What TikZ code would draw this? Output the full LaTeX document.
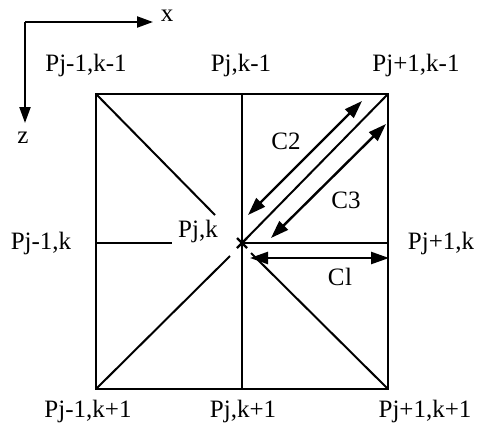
\documentclass[tikz,border=0pt]{standalone}
\usepackage{fontspec}
\setmainfont{Liberation Serif}
\usetikzlibrary{arrows.meta}
\begin{document}
\begin{tikzpicture}[x=1pt,y=-1pt,
  lbl/.style={font=\fontsize{25}{28}\selectfont, inner sep=0pt},
  edge/.style={line width=2pt},
  dim/.style={line width=2.4pt, {Triangle[length=18pt,width=12pt]}-{Triangle[length=18pt,width=12pt]}},
  axis/.style={line width=2.2pt, -{Triangle[length=16pt,width=11pt]}}]
\useasboundingbox (0,0) rectangle (481,434);
% grid points
\coordinate (TL) at (96,94);
\coordinate (TM) at (242,94);
\coordinate (TR) at (388,94);
\coordinate (ML) at (96,243);
\coordinate (C) at (242,243);
\coordinate (MR) at (388,243);
\coordinate (BL) at (96,389);
\coordinate (BM) at (242,389);
\coordinate (BR) at (388,389);
\coordinate (Lend) at (172,243);
\coordinate (d1) at (215,215);
\coordinate (d2) at (230,256);
\coordinate (d3) at (251,253);
% frame
\draw[edge] (TL) rectangle (BR);
\draw[edge] (TM) -- (BM);
\draw[edge] (C) -- (MR);
\draw[edge] (ML) -- (Lend);
\draw[edge] (TR) -- (C);
\draw[edge] (TL) -- (d1);
\draw[edge] (BL) -- (d2);
\draw[edge] (BR) -- (d3);
% centre mark
\draw[line width=2.2pt] (237,238) -- (247,248) (237,248) -- (247,238);
% dimension arrows
\coordinate (c1a) at (250,258);
\coordinate (c1b) at (389,258);
\coordinate (c2a) at (248,215);
\coordinate (c2b) at (362,101);
\coordinate (c3a) at (271,238);
\coordinate (c3b) at (386,124);
\draw[dim] (c1a) -- (c1b);
\draw[dim] (c2a) -- (c2b);
\draw[dim] (c3a) -- (c3b);
\node[lbl] (lc1) at (340,277) {C\kern0.5pt l};
\node[lbl] (lc2) at (286,141) {C2};
\node[lbl] (lc3) at (346,200) {C3};
% axes
\coordinate (O) at (25,22);
\coordinate (X) at (153,22);
\coordinate (Z) at (25,123);
\draw[axis] (O) -- (X);
\draw[axis] (O) -- (Z);
\node[lbl] (lx) at (167,16) {x};
\node[lbl] (lz) at (23,138) {z};
% labels
\node[lbl] (p1) at (86,65) {Pj-1,k-1};
\node[lbl] (p2) at (241,65) {Pj,k-1};
\node[lbl] (p3) at (416,65) {Pj+1,k-1};
\node[lbl] (p4) at (41,243) {Pj-1,k};
\node[lbl] (p5) at (198,231) {Pj,k};
\node[lbl] (p6) at (441,243) {Pj+1,k};
\node[lbl] (p7) at (88,411) {Pj-1,k+1};
\node[lbl] (p8) at (243,411) {Pj,k+1};
\node[lbl] (p9) at (425,411) {Pj+1,k+1};
\end{tikzpicture}
\end{document}
